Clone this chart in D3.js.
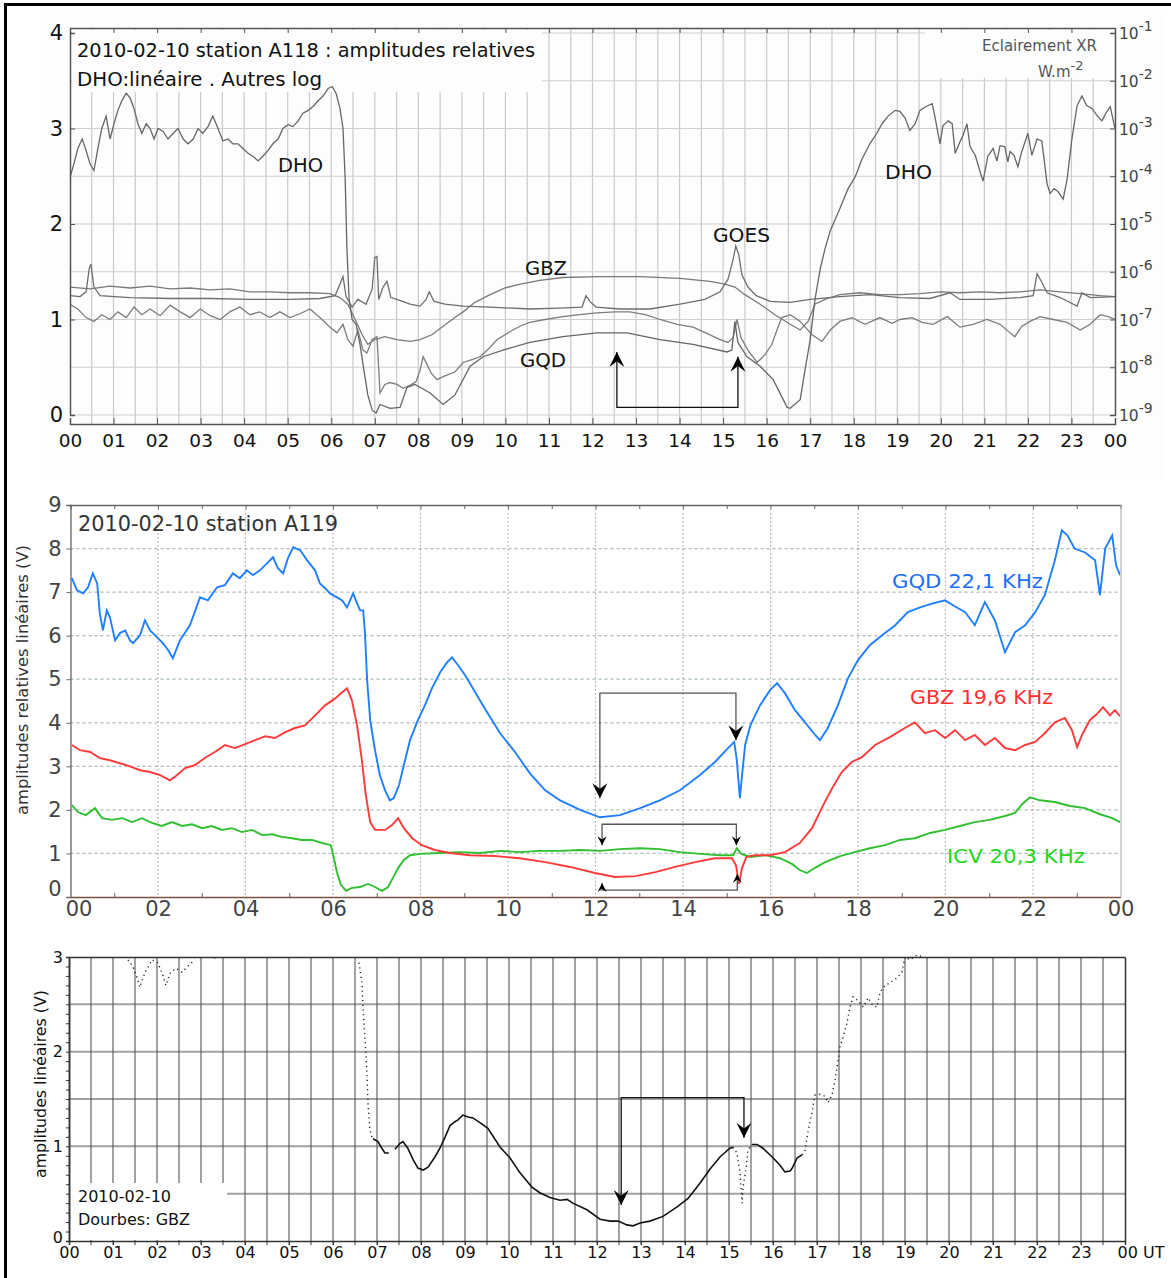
<!DOCTYPE html>
<html>
<head>
<meta charset="utf-8">
<script src="https://cdn.jsdelivr.net/npm/d3@7"></script>
<style>
  body { margin: 0; background: #fff; }
  svg { display: block; font-family: "DejaVu Sans", Verdana, sans-serif; }
</style>
</head>
<body>
<div id="chart"></div>
<script>
// ---------- Panel 1 : station A118 (hour, value on left scale 0-4) ----------
const p1Dho = [[0,2.49],[0.09,2.63],[0.18,2.79],[0.28,2.89],[0.37,2.77],[0.46,2.63],[0.55,2.56],[0.64,2.79],[0.73,3.0],[0.83,3.13],[0.92,2.89],[1.01,3.05],[1.1,3.19],[1.19,3.29],[1.29,3.37],[1.38,3.32],[1.47,3.21],[1.56,3.05],[1.65,2.95],[1.75,3.05],[1.84,3.0],[1.93,2.89],[2.02,3.0],[2.14,2.97],[2.25,2.89],[2.37,2.95],[2.48,3.0],[2.6,2.89],[2.71,2.84],[2.83,2.89],[2.94,3.0],[3.05,2.95],[3.17,3.02],[3.28,3.13],[3.4,3.0],[3.51,2.87],[3.63,2.89],[3.74,2.84],[3.86,2.84],[3.97,2.79],[4.09,2.74],[4.2,2.71],[4.32,2.66],[4.43,2.71],[4.55,2.77],[4.66,2.84],[4.78,2.89],[4.89,3.0],[5.01,3.04],[5.12,3.02],[5.24,3.08],[5.35,3.16],[5.47,3.19],[5.58,3.23],[5.7,3.29],[5.81,3.34],[5.93,3.42],[6.02,3.44],[6.11,3.37],[6.2,3.21],[6.27,3.0],[6.32,2.47],[6.36,1.74],[6.41,1.21],[6.48,1.0],[6.57,0.95],[6.66,0.74],[6.75,0.47],[6.84,0.21],[6.94,0.05],[7.03,0.02],[7.12,0.11],[7.35,0.07],[7.58,0.08],[7.74,0.29],[7.92,0.32],[8.04,0.29],[8.27,0.23],[8.57,0.11],[8.84,0.21],[9.19,0.51],[9.49,0.61],[9.94,0.68],[10.56,0.76],[11.32,0.82],[12.1,0.86],[12.79,0.86],[13.55,0.79],[14.31,0.74],[15.09,0.66],[15.2,0.68],[15.27,0.98],[15.34,0.76],[15.55,0.61],[15.85,0.51],[16.15,0.37],[16.47,0.08],[16.54,0.07],[16.77,0.16],[16.88,0.47],[17.0,0.79],[17.11,1.21],[17.23,1.53],[17.34,1.74],[17.46,1.93],[17.68,2.16],[17.87,2.37],[18.03,2.49],[18.19,2.68],[18.37,2.84],[18.53,2.95],[18.65,3.05],[18.79,3.13],[18.95,3.19],[19.06,3.18],[19.18,3.11],[19.29,2.98],[19.41,3.05],[19.52,3.19],[19.66,3.23],[19.8,3.26],[19.87,3.11],[19.98,2.84],[20.05,3.03],[20.17,3.08],[20.26,3.05],[20.33,2.74],[20.44,2.86],[20.51,2.93],[20.6,3.05],[20.67,2.81],[20.79,2.72],[20.9,2.55],[20.97,2.45],[21.08,2.71],[21.2,2.79],[21.29,2.66],[21.36,2.82],[21.47,2.81],[21.54,2.65],[21.59,2.76],[21.68,2.72],[21.77,2.6],[21.86,2.76],[22.0,2.95],[22.09,2.72],[22.21,2.89],[22.32,2.87],[22.44,2.42],[22.51,2.32],[22.6,2.37],[22.69,2.34],[22.81,2.26],[22.9,2.47],[23.01,2.89],[23.13,3.24],[23.24,3.34],[23.35,3.24],[23.47,3.21],[23.58,3.14],[23.7,3.08],[23.79,3.16],[23.89,3.23],[24.0,3.0]];

const p1Gbz = [[0,1.34],[0.46,1.32],[0.92,1.35],[1.38,1.33],[1.84,1.35],[2.3,1.32],[2.76,1.33],[3.22,1.31],[3.67,1.32],[4.13,1.29],[4.59,1.29],[5.05,1.28],[5.51,1.28],[5.97,1.27],[6.2,1.23],[6.38,1.16],[6.55,1.0],[6.71,0.84],[6.84,0.74],[7.0,0.79],[7.23,0.82],[7.51,0.79],[7.81,0.77],[8.04,0.79],[8.31,0.84],[8.57,0.93],[8.84,1.02],[9.03,1.08],[9.3,1.18],[9.65,1.26],[9.99,1.33],[10.34,1.37],[10.79,1.41],[11.32,1.44],[12.17,1.45],[13.09,1.45],[14.01,1.43],[14.7,1.4],[15.04,1.37],[15.27,1.34],[15.5,1.26],[15.85,1.16],[16.19,1.05],[16.54,0.95],[16.77,0.89],[16.95,0.98],[17.11,1.16],[17.34,1.21],[17.68,1.26],[18.14,1.28],[18.6,1.26],[19.06,1.26],[19.52,1.27],[19.98,1.29],[20.44,1.28],[20.9,1.29],[21.36,1.28],[21.82,1.29],[22.28,1.31],[22.74,1.29],[23.2,1.27],[23.66,1.25],[24.0,1.24]];

const p1Goes = [[0,1.25],[0.23,1.24],[0.37,1.29],[0.44,1.53],[0.48,1.58],[0.55,1.34],[0.69,1.25],[1.38,1.23],[2.3,1.22],[3.22,1.22],[4.13,1.21],[5.05,1.21],[5.74,1.22],[6.09,1.25],[6.2,1.37],[6.27,1.45],[6.34,1.24],[6.48,1.13],[6.61,1.21],[6.8,1.16],[6.94,1.32],[7.0,1.65],[7.05,1.66],[7.09,1.21],[7.19,1.34],[7.28,1.4],[7.37,1.23],[7.51,1.21],[7.81,1.16],[8.04,1.14],[8.18,1.21],[8.25,1.29],[8.36,1.19],[8.61,1.16],[9.03,1.14],[9.65,1.13],[10.56,1.11],[11.25,1.12],[11.76,1.13],[11.85,1.25],[11.94,1.19],[12.08,1.13],[12.63,1.11],[13.32,1.11],[14.01,1.16],[14.58,1.21],[14.93,1.29],[15.11,1.42],[15.23,1.63],[15.29,1.77],[15.36,1.68],[15.43,1.47],[15.57,1.34],[15.76,1.25],[16.08,1.19],[16.54,1.18],[17.0,1.21],[17.68,1.24],[18.37,1.26],[19.06,1.23],[19.75,1.22],[20.21,1.28],[20.44,1.21],[21.13,1.21],[21.82,1.23],[22.12,1.25],[22.21,1.48],[22.32,1.39],[22.44,1.28],[22.74,1.23],[23.13,1.14],[23.24,1.28],[23.43,1.23],[24.0,1.24]];

const p1Gqd = [[0,1.16],[0.18,1.11],[0.37,1.02],[0.55,0.98],[0.73,1.05],[0.92,1.0],[1.1,1.08],[1.29,1.02],[1.47,1.13],[1.65,1.05],[1.84,1.11],[2.07,1.04],[2.3,1.15],[2.53,1.08],[2.76,1.02],[2.99,1.11],[3.22,1.04],[3.45,1.0],[3.67,1.08],[3.9,1.13],[4.13,1.05],[4.36,1.08],[4.59,1.02],[4.82,1.08],[5.05,1.02],[5.28,1.06],[5.51,1.11],[5.74,1.02],[5.97,0.92],[6.13,0.86],[6.27,0.95],[6.38,0.79],[6.5,0.72],[6.61,0.89],[6.73,0.68],[6.82,0.65],[6.94,0.79],[7.05,0.82],[7.12,0.23],[7.23,0.32],[7.35,0.34],[7.51,0.32],[7.65,0.28],[7.81,0.31],[7.95,0.35],[8.04,0.47],[8.11,0.61],[8.2,0.53],[8.29,0.44],[8.43,0.37],[8.61,0.41],[8.84,0.45],[9.03,0.55],[9.23,0.58],[9.42,0.61],[9.65,0.71],[9.81,0.79],[9.99,0.84],[10.17,0.89],[10.38,0.94],[10.56,0.97],[10.91,1.0],[11.32,1.03],[11.71,1.05],[12.1,1.07],[12.52,1.08],[12.86,1.08],[13.21,1.05],[13.55,1.0],[13.94,0.95],[14.31,0.92],[14.65,0.85],[14.93,0.79],[15.11,0.76],[15.23,0.81],[15.32,1.0],[15.41,0.81],[15.57,0.68],[15.78,0.55],[15.96,0.63],[16.12,0.74],[16.26,0.92],[16.35,1.02],[16.54,1.05],[16.77,0.98],[17.04,0.84],[17.27,0.77],[17.46,0.89],[17.68,0.98],[17.96,1.02],[18.26,0.95],[18.6,1.02],[18.88,0.96],[19.06,1.0],[19.34,1.02],[19.57,0.97],[19.82,0.95],[20.15,1.03],[20.44,0.92],[20.74,0.95],[21.06,1.0],[21.36,0.95],[21.59,0.86],[21.7,0.82],[21.86,0.93],[22.05,0.98],[22.28,1.03],[22.58,1.0],[22.9,0.97],[23.2,0.89],[23.43,0.95],[23.66,1.05],[23.84,1.03],[24.0,1.0]];

const p1HourLabels = ["00","01","02","03","04","05","06","07","08","09","10","11","12","13","14","15","16","17","18","19","20","21","22","23","00"];
const p1LeftTicks = [0, 1, 2, 3, 4];
const p1XrExponents = [-9, -8, -7, -6, -5, -4, -3, -2, -1];
const p1Bracket = { hours: [12.56, 15.34], base: 0.08, tips: [0.66, 0.61] };

// ---------- Panel 2 : station A119 (hour, volts) ----------
const p2Gqd = [[0.03,7.32],[0.15,7.04],[0.29,6.97],[0.4,7.11],[0.51,7.43],[0.61,7.2],[0.67,6.51],[0.74,6.12],[0.83,6.58],[0.9,6.42],[1.02,5.89],[1.13,6.06],[1.25,6.12],[1.36,5.89],[1.43,5.83],[1.59,6.01],[1.7,6.35],[1.82,6.12],[1.98,5.96],[2.11,5.83],[2.23,5.67],[2.34,5.48],[2.5,5.89],[2.73,6.24],[2.96,6.88],[3.14,6.81],[3.35,7.11],[3.53,7.16],[3.71,7.43],[3.87,7.32],[4.03,7.5],[4.17,7.39],[4.33,7.5],[4.49,7.66],[4.63,7.8],[4.74,7.55],[4.86,7.43],[4.97,7.78],[5.09,8.03],[5.25,7.96],[5.41,7.73],[5.59,7.5],[5.7,7.2],[5.82,7.09],[5.93,6.97],[6.09,6.88],[6.21,6.81],[6.32,6.65],[6.46,6.97],[6.55,6.74],[6.62,6.58],[6.69,6.58],[6.73,6.06],[6.78,4.98],[6.85,4.06],[6.96,3.37],[7.07,2.8],[7.19,2.45],[7.3,2.22],[7.39,2.27],[7.51,2.57],[7.62,3.03],[7.76,3.6],[7.94,4.06],[8.1,4.4],[8.26,4.79],[8.45,5.16],[8.61,5.39],[8.72,5.5],[8.86,5.32],[9.02,5.09],[9.25,4.7],[9.47,4.33],[9.82,3.76],[10.16,3.33],[10.5,2.84],[10.85,2.45],[11.19,2.22],[11.65,2.0],[12.1,1.83],[12.56,1.88],[13.02,2.04],[13.47,2.22],[13.93,2.45],[14.39,2.8],[14.73,3.1],[15.03,3.42],[15.17,3.56],[15.23,3.14],[15.3,2.27],[15.35,2.8],[15.42,3.49],[15.54,3.94],[15.76,4.4],[15.99,4.75],[16.15,4.91],[16.33,4.68],[16.56,4.29],[16.79,4.01],[17.02,3.72],[17.13,3.6],[17.31,3.88],[17.54,4.4],[17.77,5.02],[18.0,5.44],[18.27,5.78],[18.55,6.01],[18.85,6.24],[19.14,6.54],[19.42,6.65],[19.71,6.74],[19.99,6.81],[20.22,6.67],[20.45,6.54],[20.67,6.24],[20.9,6.77],[21.13,6.35],[21.36,5.62],[21.59,6.08],[21.82,6.24],[22.05,6.54],[22.27,6.93],[22.5,7.73],[22.66,8.42],[22.79,8.3],[22.95,8.0],[23.19,7.91],[23.42,7.73],[23.53,6.93],[23.65,8.0],[23.81,8.3],[23.9,7.61],[23.99,7.39]];

const p2Gbz = [[0.03,3.49],[0.22,3.37],[0.45,3.33],[0.67,3.19],[0.9,3.14],[1.13,3.07],[1.36,3.0],[1.59,2.91],[1.82,2.87],[2.05,2.8],[2.27,2.68],[2.41,2.78],[2.62,2.96],[2.85,3.03],[3.07,3.19],[3.3,3.33],[3.53,3.49],[3.76,3.42],[3.99,3.51],[4.22,3.6],[4.45,3.69],[4.67,3.65],[4.9,3.78],[5.13,3.88],[5.36,3.94],[5.59,4.17],[5.82,4.4],[6.05,4.56],[6.21,4.7],[6.32,4.79],[6.43,4.52],[6.55,3.94],[6.66,3.14],[6.75,2.34],[6.85,1.72],[6.96,1.54],[7.19,1.54],[7.35,1.65],[7.49,1.81],[7.62,1.58],[7.81,1.35],[8.03,1.19],[8.33,1.08],[8.67,1.01],[9.13,0.96],[9.7,0.94],[10.27,0.89],[10.85,0.8],[11.42,0.69],[11.99,0.55],[12.45,0.46],[12.91,0.48],[13.37,0.57],[13.82,0.69],[14.28,0.8],[14.73,0.89],[15.12,0.89],[15.21,0.73],[15.28,0.3],[15.35,0.67],[15.45,0.92],[15.65,0.96],[15.99,0.96],[16.33,1.03],[16.67,1.24],[16.95,1.58],[17.17,2.04],[17.41,2.5],[17.63,2.87],[17.86,3.1],[18.09,3.21],[18.39,3.49],[18.73,3.67],[19.07,3.88],[19.3,4.01],[19.53,3.76],[19.76,3.83],[19.99,3.65],[20.22,3.83],[20.45,3.6],[20.67,3.72],[20.9,3.49],[21.13,3.65],[21.36,3.42],[21.59,3.37],[21.82,3.49],[22.05,3.56],[22.27,3.76],[22.5,4.01],[22.73,4.11],[22.89,3.83],[23.01,3.44],[23.12,3.72],[23.3,4.06],[23.46,4.2],[23.6,4.36],[23.76,4.17],[23.87,4.29],[23.99,4.15]];

const p2Icv = [[0.03,2.11],[0.17,1.95],[0.35,1.88],[0.56,2.04],[0.72,1.81],[0.95,1.77],[1.18,1.81],[1.41,1.72],[1.63,1.81],[1.86,1.7],[2.09,1.63],[2.32,1.72],[2.55,1.63],[2.78,1.67],[3.01,1.58],[3.23,1.63],[3.46,1.54],[3.69,1.58],[3.92,1.49],[4.15,1.54],[4.38,1.42],[4.61,1.44],[4.83,1.38],[5.06,1.35],[5.29,1.31],[5.52,1.31],[5.75,1.24],[5.95,1.19],[6.02,0.89],[6.09,0.57],[6.18,0.28],[6.3,0.14],[6.43,0.21],[6.62,0.23],[6.8,0.3],[6.96,0.23],[7.12,0.14],[7.26,0.23],[7.37,0.44],[7.49,0.67],[7.62,0.85],[7.76,0.96],[7.99,0.99],[8.45,1.01],[8.9,1.03],[9.36,1.01],[9.82,1.06],[10.27,1.03],[10.73,1.06],[11.19,1.06],[11.65,1.08],[12.1,1.06],[12.56,1.1],[13.02,1.12],[13.47,1.1],[13.93,1.03],[14.39,0.99],[14.85,0.96],[15.15,0.96],[15.23,1.12],[15.33,0.99],[15.54,0.92],[15.88,0.96],[16.22,0.89],[16.49,0.76],[16.67,0.62],[16.83,0.55],[17.02,0.67],[17.25,0.8],[17.59,0.94],[17.93,1.03],[18.27,1.12],[18.62,1.19],[18.96,1.31],[19.3,1.35],[19.65,1.47],[19.99,1.54],[20.33,1.63],[20.67,1.72],[21.01,1.77],[21.36,1.86],[21.59,1.93],[21.75,2.13],[21.93,2.29],[22.16,2.22],[22.5,2.18],[22.85,2.09],[23.19,2.04],[23.53,1.9],[23.81,1.81],[23.99,1.72]];

const p2HourLabels = ["00","02","04","06","08","10","12","14","16","18","20","22","00"];
const p2LeftTicks = [0, 1, 2, 3, 4, 5, 6, 7, 8, 9];
const p2Brackets = [
  { hours: [12.10, 15.21], base: 4.68, tips: [2.27, 3.60], dir: 1, size: 15 },
  { hours: [12.15, 15.22], base: 1.67, tips: [1.19, 1.19], dir: 1, size: 9 },
  { hours: [12.15, 15.24], base: 0.16, tips: [0.32, 0.53], dir: -1, size: 9 }
];

// ---------- Panel 3 : Dourbes GBZ (hour, volts) ----------
const p3SolidSegments = [
  [[6.91,1.08],[7.02,1.05],[7.11,0.98],[7.18,0.93],[7.27,0.93]],
  [[7.41,0.97],[7.52,1.03],[7.59,1.05],[7.7,0.98],[7.82,0.86],[7.93,0.77],[8.05,0.75],[8.16,0.78],[8.32,0.89],[8.43,0.98],[8.55,1.1],[8.66,1.22],[8.77,1.26],[8.84,1.28],[8.95,1.33],[9.07,1.31],[9.18,1.3],[9.34,1.25],[9.52,1.19],[9.8,0.99],[10.02,0.88],[10.25,0.72],[10.52,0.57],[10.7,0.51],[10.93,0.46],[11.16,0.43],[11.32,0.44],[11.45,0.4],[11.77,0.33],[12.07,0.23],[12.3,0.21],[12.48,0.21],[12.68,0.17],[12.82,0.16],[12.98,0.19],[13.2,0.21],[13.5,0.26],[13.82,0.36],[14.07,0.45],[14.34,0.61],[14.57,0.76],[14.8,0.89],[15.02,0.98],[15.09,0.99]],
  [[15.52,1.02],[15.64,1.02],[15.77,0.98],[16.0,0.88],[16.16,0.8],[16.27,0.73],[16.39,0.74],[16.45,0.78],[16.55,0.88],[16.66,0.91]]
];
const p3DottedSegments = [
  [[1.34,2.97],[1.45,2.9],[1.55,2.78],[1.61,2.68],[1.73,2.84],[1.89,2.97],[2.02,2.94],[2.14,2.8],[2.2,2.7],[2.3,2.83],[2.43,2.88],[2.57,2.84],[2.7,2.9],[2.86,2.97]],
  [[3.30,2.99],[3.34,2.99]],
  [[6.59,2.94],[6.66,2.72],[6.68,2.47],[6.73,2.12],[6.77,1.77],[6.8,1.41],[6.84,1.17],[6.89,1.09]],
  [[15.09,0.99],[15.18,0.93],[15.25,0.72],[15.3,0.4],[15.32,0.57],[15.39,0.78],[15.43,0.96],[15.52,1.02]],
  [[16.66,0.91],[16.73,0.96],[16.8,1.17],[16.89,1.36],[16.95,1.54],[17.07,1.55],[17.18,1.53],[17.25,1.46],[17.34,1.54],[17.41,1.7],[17.48,1.91],[17.52,2.05],[17.59,2.15],[17.68,2.3],[17.75,2.47],[17.82,2.58],[17.93,2.54],[18.05,2.47],[18.16,2.57],[18.27,2.49],[18.36,2.47],[18.43,2.62],[18.5,2.68],[18.66,2.73],[18.82,2.78],[18.93,2.84],[19.0,3.0],[19.11,2.97],[19.27,3.02],[19.41,3.0]]
];
const p3HourLabels = ["00","01","02","03","04","05","06","07","08","09","10","11","12","13","14","15","16","17","18","19","20","21","22","23","00 UT"];
const p3LeftTicks = [0, 1, 2, 3];
const p3Bracket = { hours: [12.55, 15.34], base: 1.515, tips: [0.38, 1.09] };

const hourTicks = d3.range(0, 25);

// ---------- SVG ----------
const svg = d3.select("#chart")
    .append("svg")
    .attr("width", 1171)
    .attr("height", 1278);

svg.append("rect").attr("width", 1171).attr("height", 1278).attr("fill", "#fff");

// outer black frame (top + left)
svg.append("path")
    .attr("d", "M5.5,1278V4.5H1171")
    .attr("fill", "none")
    .attr("stroke", "#000")
    .attr("stroke-width", 3);

// arrow head: tip at (x,y); dir 1 = pointing down, -1 = pointing up
function arrowHead(g, x, y, dir, size) {
    const w = size * 0.5;
    g.append("path")
        .attr("d", `M${x},${y}L${x - w},${y - dir * size}L${x},${y - dir * size * 0.62}L${x + w},${y - dir * size}Z`)
        .attr("fill", "#000");
}

function bracket(g, x, y, b, dir, size, stroke) {
    const xa = x(b.hours[0]), xb = x(b.hours[1]);
    g.append("path")
        .attr("d", `M${xa},${y(b.tips[0])}V${y(b.base)}H${xb}V${y(b.tips[1])}`)
        .attr("fill", "none")
        .attr("stroke", stroke)
        .attr("stroke-width", 1.3);
    arrowHead(g, xa, y(b.tips[0]), dir, size);
    arrowHead(g, xb, y(b.tips[1]), dir, size);
}

// ====================== PANEL 1 ======================
const x1 = d3.scaleLinear().domain([0, 24]).range([70, 1115]);
const y1 = d3.scaleLinear().domain([0, 4]).range([415, 33]);
const yXr = d3.scaleLog().domain([1e-9, 1e-1]).range([415, 33]);
const p1Top = 28, p1Bottom = 424;

const g1 = svg.append("g");
g1.append("rect").attr("x", 40).attr("y", 14).attr("width", 1125).attr("height", 466).attr("fill", "#fdfdfd");

// grid every half hour and every 0.5 unit (= one decade)
g1.append("g").selectAll("line")
    .data(d3.range(0.5, 24, 0.5))
    .enter().append("line")
    .attr("x1", d => x1(d)).attr("x2", d => x1(d))
    .attr("y1", p1Top).attr("y2", p1Bottom)
    .attr("stroke", "#c9c9c9").attr("stroke-width", 1.2);
g1.append("g").selectAll("line")
    .data(d3.range(0, 4.01, 0.5))
    .enter().append("line")
    .attr("x1", x1(0)).attr("x2", x1(24))
    .attr("y1", d => y1(d)).attr("y2", d => y1(d))
    .attr("stroke", "#cfcfcf").attr("stroke-width", 1.2);

// text boxes hide the grid
g1.append("rect").attr("x", 72).attr("y", 30).attr("width", 470).attr("height", 62).attr("fill", "#fdfdfd");
g1.append("rect").attr("x", 925).attr("y", 30).attr("width", 190).attr("height", 48).attr("fill", "#fdfdfd");

g1.append("clipPath").attr("id", "clip1")
    .append("rect").attr("x", 70).attr("y", p1Top).attr("width", 1045).attr("height", p1Bottom - p1Top);

const line1 = d3.line().x(d => x1(d[0])).y(d => y1(d[1]));
[[p1Gbz, "#7a7a7a"], [p1Goes, "#6e6e6e"], [p1Gqd, "#7d7d7d"], [p1Dho, "#666"]].forEach(([data, col]) => {
    g1.append("path")
        .datum(data)
        .attr("clip-path", "url(#clip1)")
        .attr("fill", "none")
        .attr("stroke", col)
        .attr("stroke-width", 1.3)
        .attr("d", line1);
});

// axes
const ax1b = g1.append("g").attr("transform", `translate(0,${p1Bottom})`)
    .call(d3.axisBottom(x1).tickValues(hourTicks).tickFormat((d, i) => p1HourLabels[i]).tickSize(-6).tickPadding(10));
const ax1t = g1.append("g").attr("transform", `translate(0,${p1Top})`)
    .call(d3.axisTop(x1).tickValues(hourTicks).tickFormat("").tickSize(-5));
const ax1l = g1.append("g").attr("transform", "translate(70,0)")
    .call(d3.axisLeft(y1).tickValues(p1LeftTicks).tickFormat(d3.format("d")).tickSize(-5).tickPadding(7));
const ax1r = g1.append("g").attr("transform", "translate(1115,0)")
    .call(d3.axisRight(yXr).tickValues(p1XrExponents.map(e => Math.pow(10, e))).tickFormat("").tickSize(-5));
[ax1b, ax1t, ax1l, ax1r].forEach(a => {
    a.select(".domain").attr("stroke", "#555").attr("stroke-width", 1.5);
    a.selectAll(".tick line").attr("stroke", "#555");
});
ax1b.selectAll("text").attr("font-size", 18.5).attr("fill", "#111").attr("font-family", "DejaVu Sans");
ax1l.selectAll("text").attr("font-size", 21).attr("fill", "#111").attr("font-family", "DejaVu Sans");

// right log labels 10^n
const xrLab = g1.append("g").selectAll("text")
    .data(p1XrExponents)
    .enter().append("text")
    .attr("x", 1119)
    .attr("y", d => yXr(Math.pow(10, d)) + 6)
    .attr("font-size", 15.5)
    .attr("fill", "#444");
xrLab.append("tspan").text("10");
xrLab.append("tspan").attr("dy", -8).attr("font-size", 14).text(d => String(d));

// texts
g1.append("text").attr("x", 77).attr("y", 57).attr("font-size", 19.5).attr("fill", "#111")
    .attr("textLength", 458).attr("lengthAdjust", "spacingAndGlyphs")
    .text("2010-02-10 station A118 : amplitudes relatives");
g1.append("text").attr("x", 77).attr("y", 86).attr("font-size", 19.5).attr("fill", "#111")
    .attr("textLength", 245).attr("lengthAdjust", "spacingAndGlyphs")
    .text("DHO:linéaire . Autres log");
g1.append("text").attr("x", 1097).attr("y", 51).attr("font-size", 15).attr("fill", "#555")
    .attr("text-anchor", "end").text("Eclairement XR");
const wm = g1.append("text").attr("x", 1038).attr("y", 77).attr("font-size", 15).attr("fill", "#555");
wm.append("tspan").text("W.m");
wm.append("tspan").attr("dy", -7).attr("font-size", 13).text("-2");

[["DHO", 278, 172, 45], ["GBZ", 525, 275, 42], ["GQD", 520, 367, 46], ["GOES", 713, 242, 57], ["DHO", 885, 179, 47]]
    .forEach(([t, x, y, w]) => {
        g1.append("text").attr("x", x).attr("y", y).attr("font-size", 19).attr("fill", "#111")
            .attr("textLength", w).attr("lengthAdjust", "spacingAndGlyphs").text(t);
    });

const br1 = g1.append("g");
bracket(br1, x1, y1, p1Bracket, -1, 15, "#111");

// ====================== PANEL 2 ======================
const x2 = d3.scaleLinear().domain([0, 24]).range([70.5, 1120.5]);
const y2 = d3.scaleLinear().domain([0, 9]).range([897, 505]);
const g2 = svg.append("g");

g2.append("g").selectAll("line")
    .data(d3.range(1, 9))
    .enter().append("line")
    .attr("x1", x2(0)).attr("x2", x2(24))
    .attr("y1", d => y2(d)).attr("y2", d => y2(d))
    .attr("stroke", "#a9bdbd").attr("stroke-width", 1.2).attr("stroke-dasharray", "3,3");
g2.append("g").selectAll("line")
    .data(d3.range(2, 24, 2))
    .enter().append("line")
    .attr("x1", d => x2(d)).attr("x2", d => x2(d))
    .attr("y1", y2(9)).attr("y2", y2(0))
    .attr("stroke", "#b9a3a8").attr("stroke-width", 1.2).attr("stroke-dasharray", "1.5,2.5");

g2.append("clipPath").attr("id", "clip2")
    .append("rect").attr("x", x2(0)).attr("y", y2(9)).attr("width", x2(24) - x2(0)).attr("height", y2(0) - y2(9));

const line2 = d3.line().x(d => x2(d[0])).y(d => y2(d[1]));
[[p2Icv, "#2fbf2f"], [p2Gbz, "#ff3a3a"], [p2Gqd, "#1f7fff"]].forEach(([data, col]) => {
    g2.append("path")
        .datum(data)
        .attr("clip-path", "url(#clip2)")
        .attr("fill", "none")
        .attr("stroke", col)
        .attr("stroke-width", 1.9)
        .attr("d", line2);
});

const ax2b = g2.append("g").attr("transform", `translate(0,${y2(0)})`)
    .call(d3.axisBottom(x2).tickValues(d3.range(0, 25, 2)).tickFormat((d, i) => p2HourLabels[i]).tickSize(0).tickPadding(4));
const ax2bMinor = g2.append("g").attr("transform", `translate(0,${y2(0)})`)
    .call(d3.axisBottom(x2).tickValues(d3.range(1, 24, 2)).tickFormat("").tickSize(-4));
const ax2t = g2.append("g").attr("transform", `translate(0,${y2(9)})`)
    .call(d3.axisTop(x2).tickValues(d3.range(1, 24)).tickFormat("").tickSize(-4));
const ax2l = g2.append("g").attr("transform", `translate(${x2(0)},0)`)
    .call(d3.axisLeft(y2).tickValues(p2LeftTicks).tickSize(4).tickPadding(5));
const ax2r = g2.append("g").attr("transform", `translate(${x2(24)},0)`)
    .call(d3.axisRight(y2).tickValues([]).tickSize(0));
[ax2t, ax2l, ax2r, ax2bMinor].forEach(a => {
    a.select(".domain").attr("stroke", "#666").attr("stroke-width", 1.3);
    a.selectAll(".tick line").attr("stroke", "#666");
});
ax2b.select(".domain").attr("stroke", "#7a5040").attr("stroke-width", 1.6);
ax2bMinor.select(".domain").remove();
ax2r.select(".domain").attr("stroke", "#bbb");
ax2b.selectAll("text").attr("font-size", 21).attr("fill", "#444").attr("font-family", "DejaVu Sans")
    .attr("dx", (d, i) => i === 0 ? 8 : 0);
ax2l.selectAll("text").attr("font-size", 21).attr("fill", "#444").attr("font-family", "DejaVu Sans")
    .attr("dy", d => d === 0 ? "-0.05em" : "0.32em");

g2.append("text").attr("x", 78).attr("y", 531).attr("font-size", 21).attr("fill", "#333")
    .attr("textLength", 260).attr("lengthAdjust", "spacingAndGlyphs")
    .text("2010-02-10 station A119");
g2.append("text").attr("transform", "translate(28,680) rotate(-90)")
    .attr("text-anchor", "middle").attr("font-size", 16).attr("fill", "#333")
    .attr("textLength", 270).attr("lengthAdjust", "spacingAndGlyphs")
    .text("amplitudes relatives linéaires (V)");
[["GQD 22,1 KHz", 892, 588, 151, "#1f6fff"], ["GBZ 19,6 KHz", 910, 704, 143, "#ff2f2f"], ["ICV 20,3 KHz", 947, 863, 138, "#22d622"]]
    .forEach(([t, x, y, w, c]) => {
        g2.append("text").attr("x", x).attr("y", y).attr("font-size", 20).attr("fill", c)
            .attr("textLength", w).attr("lengthAdjust", "spacingAndGlyphs").text(t);
    });

p2Brackets.forEach(b => {
    const gb = g2.append("g");
    bracket(gb, x2, y2, b, b.dir, b.size, "#555");
});

// ====================== PANEL 3 ======================
const x3 = d3.scaleLinear().domain([0, 24]).range([69, 1125]);
const y3 = d3.scaleLinear().domain([0, 3]).range([1241, 957]);
const g3 = svg.append("g");

g3.append("g").selectAll("line")
    .data(d3.range(0.5, 3, 0.5))
    .enter().append("line")
    .attr("x1", x3(0)).attr("x2", x3(24))
    .attr("y1", d => y3(d)).attr("y2", d => y3(d))
    .attr("stroke", "#a0a0a0").attr("stroke-width", 2);
g3.append("g").selectAll("line")
    .data(d3.range(0.5, 24, 0.5))
    .enter().append("line")
    .attr("x1", d => x3(d)).attr("x2", d => x3(d))
    .attr("y1", y3(3)).attr("y2", y3(0) + 4)
    .attr("stroke", "#555").attr("stroke-width", 1.1);

// box behind the label text
g3.append("rect").attr("x", 70).attr("y", 1183).attr("width", 157).attr("height", 57).attr("fill", "#fff");

g3.append("clipPath").attr("id", "clip3")
    .append("rect").attr("x", x3(0)).attr("y", y3(3) - 2).attr("width", x3(24) - x3(0)).attr("height", y3(0) - y3(3) + 2);

const line3 = d3.line().x(d => x3(d[0])).y(d => y3(d[1]));
p3SolidSegments.forEach(seg => {
    g3.append("path").datum(seg)
        .attr("clip-path", "url(#clip3)")
        .attr("fill", "none").attr("stroke", "#111").attr("stroke-width", 1.6)
        .attr("d", line3);
});
p3DottedSegments.forEach(seg => {
    g3.append("path").datum(seg)
        .attr("clip-path", "url(#clip3)")
        .attr("fill", "none").attr("stroke", "#222").attr("stroke-width", 1.4)
        .attr("stroke-dasharray", "1.2,3.5")
        .attr("d", line3);
});

const ax3b = g3.append("g").attr("transform", `translate(0,${y3(0)})`)
    .call(d3.axisBottom(x3).tickValues(hourTicks).tickFormat((d, i) => p3HourLabels[i]).tickSize(4).tickPadding(2));
const ax3t = g3.append("g").attr("transform", `translate(0,${y3(3)})`)
    .call(d3.axisTop(x3).tickValues([]).tickSize(0));
const ax3l = g3.append("g").attr("transform", `translate(${x3(0)},0)`)
    .call(d3.axisLeft(y3).tickValues(p3LeftTicks).tickFormat(d3.format("d")).tickSize(0).tickPadding(6));
const ax3lMinor = g3.append("g").attr("transform", `translate(${x3(0)},0)`)
    .call(d3.axisLeft(y3).tickValues(d3.range(0, 3.01, 0.1)).tickFormat("").tickSize(3));
const ax3r = g3.append("g").attr("transform", `translate(${x3(24)},0)`)
    .call(d3.axisRight(y3).tickValues([]).tickSize(0));
[ax3b, ax3t, ax3l, ax3lMinor, ax3r].forEach(a => {
    a.select(".domain").attr("stroke", "#333").attr("stroke-width", 1.5);
    a.selectAll(".tick line").attr("stroke", "#333");
});
ax3b.selectAll("text").attr("font-size", 16).attr("fill", "#111").attr("font-family", "DejaVu Sans")
    .attr("text-anchor", (d, i) => i === 24 ? "start" : "middle")
    .attr("dx", (d, i) => i === 24 ? -8 : 0);
ax3l.selectAll("text").attr("font-size", 16).attr("fill", "#111").attr("font-family", "DejaVu Sans")
    .attr("dy", d => d === 0 ? "0.1em" : "0.32em");

g3.append("text").attr("transform", "translate(46,1084) rotate(-90)")
    .attr("text-anchor", "middle").attr("font-size", 15.5).attr("fill", "#111")
    .attr("textLength", 188).attr("lengthAdjust", "spacingAndGlyphs")
    .text("amplitudes linéaires (V)");
g3.append("text").attr("x", 78).attr("y", 1202).attr("font-size", 16).attr("fill", "#111").text("2010-02-10");
g3.append("text").attr("x", 78).attr("y", 1225).attr("font-size", 16).attr("fill", "#111").text("Dourbes: GBZ");

const br3 = g3.append("g");
bracket(br3, x3, y3, p3Bracket, 1, 15, "#111");
</script>
</body>
</html>
